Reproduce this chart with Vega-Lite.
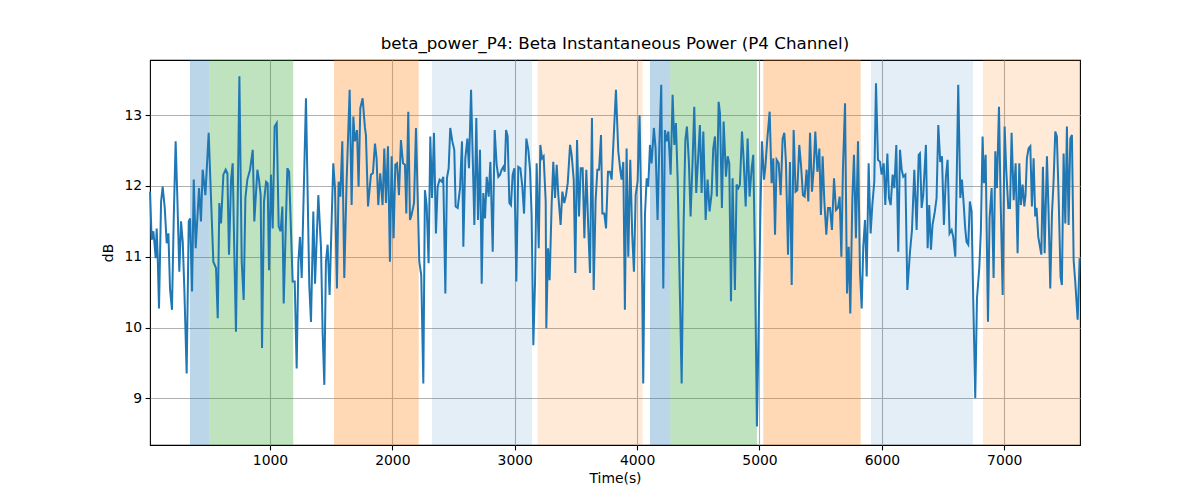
{
  "$schema": "https://vega.github.io/schema/vega-lite/v6.json",
  "width": 930,
  "height": 385,
  "autosize": {"type": "none"},
  "padding": {"left": 150, "top": 60, "right": 120, "bottom": 55},
  "background": "white",
  "title": {"text": "beta_power_P4: Beta Instantaneous Power (P4 Channel)", "font": "DejaVu Sans", "fontSize": 16.7, "fontWeight": "normal", "color": "black", "anchor": "middle", "offset": 7},
  "config": {
    "view": {"stroke": "black", "strokeWidth": 1.1},
    "axis": {"domain": false, "tickColor": "black", "tickSize": 4.9, "tickWidth": 1.1, "labelColor": "black", "labelFont": "DejaVu Sans", "labelFontSize": 13.9, "titleFont": "DejaVu Sans", "titleFontSize": 13.9, "titleFontWeight": "normal", "titleColor": "black", "gridColor": "#b0b0b0", "gridWidth": 1.1, "labelPadding": 3.5}
  },
  "datasets": {
    "spans": [
      {"start": 346, "end": 504, "band": "A"},
      {"start": 504, "end": 1190, "band": "B"},
      {"start": 1523, "end": 2215, "band": "C"},
      {"start": 2324, "end": 3141, "band": "D"},
      {"start": 3187, "end": 4045, "band": "E"},
      {"start": 4105, "end": 4271, "band": "A"},
      {"start": 4271, "end": 4979, "band": "B"},
      {"start": 5031, "end": 5827, "band": "C"},
      {"start": 5911, "end": 6744, "band": "D"},
      {"start": 6826, "end": 7619, "band": "E"}
    ],
    "power": [
      {"t":20,"v":11.92},{"t":33,"v":11.24},{"t":47,"v":11.36},{"t":55,"v":11.21},{"t":66,"v":10.98},{"t":74,"v":11.40},{"t":82,"v":11.03},{"t":93,"v":10.27},{"t":110,"v":11.78},{"t":123,"v":11.99},{"t":140,"v":11.69},{"t":156,"v":11.19},{"t":170,"v":11.33},{"t":183,"v":10.55},{"t":199,"v":10.25},{"t":213,"v":11.50},{"t":229,"v":12.63},{"t":243,"v":11.83},{"t":259,"v":10.79},{"t":273,"v":11.50},{"t":287,"v":11.21},{"t":300,"v":10.55},{"t":319,"v":9.35},{"t":336,"v":11.50},{"t":347,"v":11.54},{"t":363,"v":10.51},{"t":377,"v":12.09},{"t":393,"v":11.12},{"t":420,"v":11.97},{"t":436,"v":11.50},{"t":450,"v":12.23},{"t":472,"v":11.87},{"t":499,"v":12.75},{"t":515,"v":11.97},{"t":537,"v":10.93},{"t":559,"v":10.84},{"t":573,"v":10.13},{"t":586,"v":11.76},{"t":600,"v":11.47},{"t":619,"v":12.16},{"t":638,"v":12.23},{"t":652,"v":12.18},{"t":665,"v":11.03},{"t":682,"v":12.09},{"t":695,"v":12.32},{"t":709,"v":11.03},{"t":722,"v":9.94},{"t":750,"v":13.55},{"t":769,"v":10.93},{"t":785,"v":10.39},{"t":799,"v":11.83},{"t":815,"v":12.09},{"t":837,"v":12.23},{"t":859,"v":12.51},{"t":872,"v":11.50},{"t":897,"v":12.23},{"t":910,"v":12.09},{"t":924,"v":11.87},{"t":935,"v":9.71},{"t":951,"v":11.78},{"t":968,"v":12.06},{"t":981,"v":12.04},{"t":992,"v":10.81},{"t":1008,"v":12.16},{"t":1022,"v":11.40},{"t":1038,"v":12.84},{"t":1055,"v":12.89},{"t":1071,"v":11.43},{"t":1087,"v":11.36},{"t":1101,"v":11.71},{"t":1112,"v":10.34},{"t":1142,"v":12.25},{"t":1156,"v":12.20},{"t":1185,"v":10.65},{"t":1202,"v":10.65},{"t":1218,"v":9.42},{"t":1232,"v":10.93},{"t":1245,"v":11.28},
      {"t":1259,"v":10.70},{"t":1294,"v":13.24},{"t":1321,"v":10.60},{"t":1335,"v":10.08},{"t":1354,"v":11.64},{"t":1368,"v":10.62},{"t":1395,"v":11.87},{"t":1417,"v":11.12},{"t":1430,"v":9.94},{"t":1444,"v":9.19},{"t":1457,"v":10.93},{"t":1471,"v":11.17},{"t":1487,"v":10.46},{"t":1517,"v":12.32},{"t":1531,"v":11.97},{"t":1547,"v":10.55},{"t":1561,"v":12.06},{"t":1575,"v":11.85},{"t":1591,"v":12.63},{"t":1607,"v":10.70},{"t":1626,"v":12.06},{"t":1651,"v":13.36},{"t":1667,"v":11.73},{"t":1681,"v":12.98},{"t":1694,"v":12.63},{"t":1711,"v":12.79},{"t":1724,"v":11.99},{"t":1738,"v":13.10},{"t":1757,"v":13.24},{"t":1776,"v":12.82},{"t":1784,"v":12.72},{"t":1801,"v":11.71},{"t":1825,"v":12.16},{"t":1841,"v":12.18},{"t":1858,"v":12.60},{"t":1871,"v":12.39},{"t":1885,"v":11.73},{"t":1901,"v":12.18},{"t":1920,"v":11.73},{"t":1934,"v":12.53},{"t":1948,"v":11.76},{"t":1964,"v":12.56},{"t":1980,"v":10.93},{"t":1994,"v":12.42},{"t":2010,"v":11.26},{"t":2024,"v":12.30},{"t":2038,"v":12.32},{"t":2054,"v":11.87},{"t":2070,"v":12.65},{"t":2087,"v":12.32},{"t":2103,"v":12.30},{"t":2114,"v":11.61},{"t":2130,"v":13.05},{"t":2144,"v":11.52},{"t":2157,"v":11.59},{"t":2177,"v":11.76},{"t":2193,"v":12.82},{"t":2220,"v":10.93},{"t":2236,"v":10.74},{"t":2253,"v":9.21},{"t":2266,"v":11.94},{"t":2280,"v":11.73},{"t":2296,"v":10.91},{"t":2310,"v":12.70},{"t":2324,"v":11.83},{"t":2340,"v":12.75},{"t":2356,"v":11.33},{"t":2370,"v":11.99},{"t":2386,"v":12.09},{"t":2403,"v":12.06},{"t":2416,"v":12.13},{"t":2433,"v":10.48},{"t":2446,"v":12.11},{"t":2460,"v":12.25},{"t":2473,"v":12.82},{"t":2490,"v":12.63},{"t":2506,"v":12.51},
      {"t":2517,"v":11.71},{"t":2534,"v":11.69},{"t":2553,"v":11.97},{"t":2569,"v":12.63},{"t":2580,"v":11.14},{"t":2596,"v":12.39},{"t":2613,"v":12.67},{"t":2626,"v":12.25},{"t":2643,"v":13.36},{"t":2656,"v":12.44},{"t":2670,"v":11.45},{"t":2686,"v":12.96},{"t":2700,"v":11.52},{"t":2716,"v":12.51},{"t":2730,"v":10.62},{"t":2743,"v":11.90},{"t":2757,"v":11.54},{"t":2771,"v":12.13},{"t":2787,"v":11.85},{"t":2801,"v":12.34},{"t":2820,"v":11.07},{"t":2836,"v":12.79},{"t":2852,"v":12.30},{"t":2866,"v":12.13},{"t":2880,"v":12.16},{"t":2893,"v":12.23},{"t":2907,"v":12.27},{"t":2918,"v":12.20},{"t":2929,"v":12.79},{"t":2942,"v":12.70},{"t":2956,"v":11.76},{"t":2969,"v":11.73},{"t":2983,"v":12.16},{"t":2997,"v":12.25},{"t":3013,"v":10.65},{"t":3029,"v":12.27},{"t":3046,"v":12.25},{"t":3062,"v":11.99},{"t":3076,"v":11.61},{"t":3095,"v":12.67},{"t":3111,"v":12.51},{"t":3125,"v":12.23},{"t":3138,"v":11.59},{"t":3152,"v":9.75},{"t":3166,"v":10.65},{"t":3179,"v":12.32},{"t":3196,"v":11.12},{"t":3209,"v":12.58},{"t":3223,"v":12.39},{"t":3236,"v":12.42},{"t":3253,"v":11.78},{"t":3258,"v":9.99},{"t":3272,"v":11.12},{"t":3285,"v":10.67},{"t":3302,"v":11.76},{"t":3315,"v":12.34},{"t":3329,"v":11.83},{"t":3343,"v":12.30},{"t":3356,"v":11.87},{"t":3375,"v":11.45},{"t":3389,"v":11.92},{"t":3405,"v":11.76},{"t":3419,"v":11.87},{"t":3433,"v":12.04},{"t":3452,"v":12.58},{"t":3465,"v":12.44},{"t":3482,"v":12.09},{"t":3495,"v":10.77},{"t":3509,"v":12.65},{"t":3525,"v":11.57},{"t":3539,"v":12.25},{"t":3555,"v":12.25},{"t":3569,"v":11.26},{"t":3585,"v":12.23},{"t":3601,"v":11.40},{"t":3615,"v":10.77},{"t":3631,"v":12.96},{"t":3645,"v":10.53},{"t":3661,"v":11.80},{"t":3675,"v":12.23},{"t":3689,"v":12.23},{"t":3705,"v":12.72},{"t":3716,"v":11.61},{"t":3732,"v":11.61},{"t":3746,"v":11.40},{"t":3762,"v":12.20},{"t":3778,"v":12.20},
      {"t":3792,"v":12.09},{"t":3808,"v":12.67},{"t":3827,"v":13.36},{"t":3846,"v":12.49},{"t":3862,"v":12.23},{"t":3873,"v":12.09},{"t":3887,"v":12.34},{"t":3900,"v":10.25},{"t":3914,"v":12.53},{"t":3928,"v":11.00},{"t":3944,"v":12.37},{"t":3960,"v":11.31},{"t":3974,"v":10.79},{"t":3988,"v":11.87},{"t":4004,"v":12.06},{"t":4020,"v":13.00},{"t":4037,"v":11.33},{"t":4050,"v":9.21},{"t":4064,"v":11.59},{"t":4078,"v":12.11},{"t":4091,"v":11.99},{"t":4105,"v":12.58},{"t":4118,"v":12.32},{"t":4137,"v":12.82},{"t":4151,"v":12.53},{"t":4167,"v":11.52},{"t":4181,"v":12.53},{"t":4197,"v":13.43},{"t":4214,"v":10.55},{"t":4227,"v":12.79},{"t":4241,"v":12.63},{"t":4255,"v":12.77},{"t":4274,"v":12.16},{"t":4290,"v":13.29},{"t":4304,"v":12.58},{"t":4317,"v":12.89},{"t":4331,"v":12.11},{"t":4344,"v":10.95},{"t":4364,"v":9.21},{"t":4380,"v":11.45},{"t":4394,"v":12.65},{"t":4407,"v":12.84},{"t":4423,"v":12.34},{"t":4437,"v":11.57},{"t":4453,"v":12.34},{"t":4467,"v":13.12},{"t":4483,"v":11.90},{"t":4500,"v":12.44},{"t":4513,"v":12.86},{"t":4527,"v":11.90},{"t":4541,"v":12.77},{"t":4560,"v":11.52},{"t":4576,"v":12.09},{"t":4592,"v":11.64},{"t":4609,"v":11.90},{"t":4622,"v":12.53},{"t":4636,"v":12.70},{"t":4652,"v":11.85},{"t":4666,"v":13.19},{"t":4677,"v":13.03},{"t":4693,"v":11.69},{"t":4707,"v":12.91},{"t":4726,"v":12.13},{"t":4740,"v":12.42},{"t":4753,"v":12.32},{"t":4767,"v":10.37},{"t":4780,"v":12.11},{"t":4799,"v":10.53},{"t":4813,"v":12.02},{"t":4827,"v":11.97},{"t":4840,"v":12.02},{"t":4857,"v":12.77},{"t":4870,"v":12.39},{"t":4887,"v":11.71},{"t":4903,"v":12.67},{"t":4919,"v":11.85},{"t":4936,"v":12.25},{"t":4949,"v":12.44},{"t":4963,"v":10.98},{"t":4979,"v":8.60},{"t":4993,"v":10.04},{"t":5007,"v":11.59},{"t":5020,"v":12.63},{"t":5037,"v":12.09},
      {"t":5048,"v":12.27},{"t":5064,"v":12.67},{"t":5083,"v":13.05},{"t":5099,"v":12.04},{"t":5113,"v":12.39},{"t":5127,"v":11.31},{"t":5140,"v":12.37},{"t":5157,"v":12.32},{"t":5173,"v":11.87},{"t":5189,"v":12.67},{"t":5203,"v":12.75},{"t":5216,"v":12.34},{"t":5233,"v":11.03},{"t":5249,"v":12.34},{"t":5263,"v":10.60},{"t":5279,"v":12.79},{"t":5295,"v":11.92},{"t":5309,"v":11.94},{"t":5325,"v":12.58},{"t":5339,"v":12.30},{"t":5355,"v":11.87},{"t":5369,"v":11.85},{"t":5385,"v":12.23},{"t":5399,"v":11.78},{"t":5413,"v":12.75},{"t":5429,"v":11.92},{"t":5443,"v":12.25},{"t":5456,"v":12.77},{"t":5473,"v":12.20},{"t":5489,"v":12.53},{"t":5502,"v":11.59},{"t":5516,"v":12.42},{"t":5530,"v":11.78},{"t":5546,"v":11.31},{"t":5560,"v":11.69},{"t":5576,"v":11.69},{"t":5592,"v":11.38},{"t":5609,"v":12.11},{"t":5625,"v":11.66},{"t":5641,"v":11.69},{"t":5655,"v":11.85},{"t":5669,"v":11.00},{"t":5682,"v":12.25},{"t":5699,"v":13.17},{"t":5715,"v":10.48},{"t":5729,"v":11.14},{"t":5742,"v":10.20},{"t":5759,"v":11.83},{"t":5772,"v":12.44},{"t":5788,"v":11.26},{"t":5805,"v":12.63},{"t":5821,"v":10.79},{"t":5835,"v":10.27},{"t":5848,"v":11.14},{"t":5862,"v":11.52},{"t":5876,"v":10.72},{"t":5892,"v":12.32},{"t":5908,"v":11.33},{"t":5922,"v":11.73},{"t":5938,"v":12.06},{"t":5952,"v":13.45},{"t":5968,"v":12.37},{"t":5985,"v":12.34},{"t":5998,"v":12.16},{"t":6015,"v":12.32},{"t":6028,"v":11.73},{"t":6045,"v":12.46},{"t":6058,"v":11.83},{"t":6072,"v":11.73},{"t":6088,"v":12.16},{"t":6102,"v":11.97},{"t":6118,"v":12.58},{"t":6134,"v":11.07},{"t":6148,"v":12.51},{"t":6162,"v":12.23},{"t":6175,"v":12.13},{"t":6192,"v":12.16},{"t":6208,"v":10.53},{"t":6230,"v":11.07},{"t":6246,"v":11.38},{"t":6265,"v":12.23},{"t":6284,"v":11.38},{"t":6301,"v":12.44},
      {"t":6311,"v":12.46},{"t":6325,"v":11.69},{"t":6338,"v":11.87},{"t":6360,"v":12.58},{"t":6374,"v":11.12},{"t":6387,"v":11.73},{"t":6401,"v":11.10},{"t":6414,"v":11.45},{"t":6433,"v":11.64},{"t":6447,"v":11.83},{"t":6461,"v":12.86},{"t":6477,"v":12.34},{"t":6491,"v":12.42},{"t":6507,"v":11.45},{"t":6523,"v":12.13},{"t":6537,"v":12.37},{"t":6553,"v":11.33},{"t":6570,"v":11.38},{"t":6583,"v":11.28},{"t":6600,"v":11.00},{"t":6613,"v":12.25},{"t":6624,"v":13.43},{"t":6641,"v":11.83},{"t":6654,"v":12.09},{"t":6668,"v":11.76},{"t":6681,"v":11.40},{"t":6692,"v":11.21},{"t":6706,"v":11.17},{"t":6719,"v":11.78},{"t":6733,"v":11.64},{"t":6747,"v":10.37},{"t":6763,"v":9.00},{"t":6777,"v":10.41},{"t":6796,"v":10.84},{"t":6809,"v":11.36},{"t":6823,"v":12.70},{"t":6834,"v":12.04},{"t":6848,"v":12.44},{"t":6867,"v":10.08},{"t":6880,"v":11.54},{"t":6897,"v":11.97},{"t":6913,"v":10.70},{"t":6927,"v":12.49},{"t":6940,"v":11.97},{"t":6957,"v":13.12},{"t":6970,"v":11.83},{"t":6987,"v":10.46},{"t":7003,"v":12.84},{"t":7017,"v":12.20},{"t":7033,"v":11.69},{"t":7047,"v":11.69},{"t":7060,"v":12.75},{"t":7077,"v":11.80},{"t":7093,"v":12.32},{"t":7109,"v":11.05},{"t":7123,"v":12.32},{"t":7136,"v":11.73},{"t":7150,"v":12.02},{"t":7164,"v":11.71},{"t":7174,"v":11.87},{"t":7185,"v":12.39},{"t":7199,"v":12.53},{"t":7213,"v":12.56},{"t":7226,"v":11.71},{"t":7240,"v":12.39},{"t":7253,"v":11.57},{"t":7264,"v":11.69},{"t":7278,"v":11.28},{"t":7303,"v":11.03},{"t":7316,"v":12.27},{"t":7330,"v":11.05},{"t":7349,"v":12.42},{"t":7362,"v":11.64},{"t":7376,"v":10.55},{"t":7390,"v":11.61},{"t":7403,"v":12.06},{"t":7417,"v":12.77},{"t":7430,"v":12.70},{"t":7444,"v":11.87},{"t":7460,"v":10.72},{"t":7471,"v":10.60},{"t":7485,"v":12.46},{"t":7499,"v":11.47},{"t":7512,"v":12.84},{"t":7526,"v":11.45},{"t":7540,"v":12.67},{"t":7553,"v":12.72},{"t":7567,"v":10.95},{"t":7580,"v":10.65},{"t":7600,"v":10.11},{"t":7616,"v":10.98}
    ]
  },
  "layer": [
    {
      "data": {"name": "spans"},
      "transform": [{"filter": "datum.band === 'A' || datum.band === 'B' || datum.band === 'C'"}],
      "mark": {"type": "rect", "opacity": 0.3},
      "encoding": {
        "x": {"field": "start", "type": "quantitative", "scale": {"domain": [19.5, 7619], "nice": false, "zero": false}, "axis": {"title": "Time(s)", "values": [1000, 2000, 3000, 4000, 5000, 6000, 7000], "format": "d", "grid": true, "labelFlush": false, "titlePadding": 4}},
        "x2": {"field": "end"},
        "color": {"field": "band", "type": "nominal", "legend": null, "scale": {"domain": ["A", "B", "C", "D", "E"], "range": ["#1f77b4", "#2ca02c", "#ff7f0e", "#1f77b4", "#ff7f0e"]}}
      }
    },
    {
      "data": {"name": "spans"},
      "transform": [{"filter": "datum.band === 'D'"}],
      "mark": {"type": "rect", "opacity": 0.12},
      "encoding": {
        "x": {"field": "start", "type": "quantitative", "scale": {"domain": [19.5, 7619], "nice": false, "zero": false}, "axis": {"title": "Time(s)", "values": [1000, 2000, 3000, 4000, 5000, 6000, 7000], "format": "d", "grid": true, "labelFlush": false, "titlePadding": 4}},
        "x2": {"field": "end"},
        "color": {"field": "band", "type": "nominal", "legend": null, "scale": {"domain": ["A", "B", "C", "D", "E"], "range": ["#1f77b4", "#2ca02c", "#ff7f0e", "#1f77b4", "#ff7f0e"]}}
      }
    },
    {
      "data": {"name": "spans"},
      "transform": [{"filter": "datum.band === 'E'"}],
      "mark": {"type": "rect", "opacity": 0.16},
      "encoding": {
        "x": {"field": "start", "type": "quantitative", "scale": {"domain": [19.5, 7619], "nice": false, "zero": false}, "axis": {"title": "Time(s)", "values": [1000, 2000, 3000, 4000, 5000, 6000, 7000], "format": "d", "grid": true, "labelFlush": false, "titlePadding": 4}},
        "x2": {"field": "end"},
        "color": {"field": "band", "type": "nominal", "legend": null, "scale": {"domain": ["A", "B", "C", "D", "E"], "range": ["#1f77b4", "#2ca02c", "#ff7f0e", "#1f77b4", "#ff7f0e"]}}
      }
    },
    {
      "data": {"name": "power"},
      "mark": {"type": "line", "color": "#1f77b4", "strokeWidth": 2},
      "encoding": {
        "x": {"field": "t", "type": "quantitative", "scale": {"domain": [19.5, 7619], "nice": false, "zero": false}, "axis": {"title": "Time(s)", "values": [1000, 2000, 3000, 4000, 5000, 6000, 7000], "format": "d", "grid": true, "labelFlush": false, "titlePadding": 4}},
        "y": {"field": "v", "type": "quantitative", "scale": {"domain": [8.34, 13.78], "nice": false, "zero": false}, "axis": {"title": "dB", "values": [9, 10, 11, 12, 13], "format": "d", "grid": true, "titlePadding": 8}}
      }
    }
  ]
}
